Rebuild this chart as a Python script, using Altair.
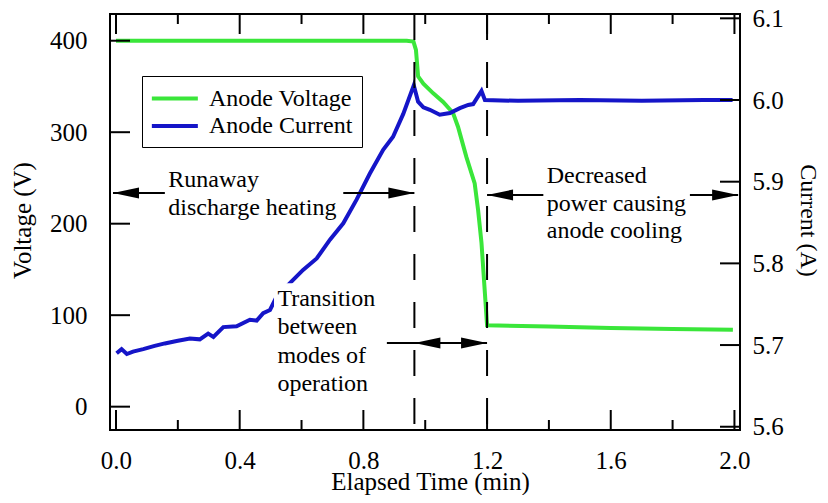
import altair as alt
import pandas as pd

# ---------------- data ----------------
volt_time = [0.0, 0.2, 0.4, 0.6, 0.8, 0.94, 0.962, 0.970, 0.977, 0.994, 1.026, 1.058,
             1.090, 1.106, 1.133, 1.160, 1.171, 1.182, 1.193, 1.200, 1.4, 1.6, 1.8, 1.995]
volt_value = [400, 400, 400, 400, 400, 400, 399, 390, 361, 353, 342.5, 333,
              321, 306, 273, 244, 215, 179, 124, 89, 87.5, 86, 85, 84]

curr_time = [0.002, 0.018, 0.035, 0.055, 0.088, 0.125, 0.158, 0.196, 0.239, 0.271,
             0.298, 0.315, 0.347, 0.390, 0.433, 0.455, 0.476, 0.498, 0.519, 0.545,
             0.568, 0.605, 0.649, 0.692, 0.735, 0.778, 0.821, 0.864, 0.896, 0.929,
             0.963, 0.977, 0.994, 1.015, 1.047, 1.080, 1.112, 1.139, 1.155, 1.182,
             1.193, 1.3, 1.5, 1.7, 1.9, 1.994]
curr_value = [5.690, 5.695, 5.689, 5.692, 5.695, 5.699, 5.702, 5.705, 5.708, 5.707,
              5.714, 5.710, 5.722, 5.723, 5.731, 5.730, 5.739, 5.743, 5.759, 5.769,
              5.778, 5.792, 5.806, 5.829, 5.849, 5.878, 5.910, 5.939, 5.955, 5.983,
              6.018, 5.998, 5.991, 5.988, 5.982, 5.984, 5.990, 5.994, 5.995, 6.011,
              6.000, 5.999, 6.000, 5.999, 6.000, 6.000]

series_names = ["Anode Voltage", "Anode Current"]
series_colors = ["#3ae63a", "#1515c8"]

x_major = [0.0, 0.4, 0.8, 1.2, 1.6, 2.0]
x_minor = [0.2, 0.6, 1.0, 1.4, 1.8]
v_ticks = [0, 100, 200, 300, 400]
i_ticks = [5.6, 5.7, 5.8, 5.9, 6.0, 6.1]

mode_bounds = [0.965, 1.2]

# arrow shafts (time from, time to, voltage level)
shaft_t1 = [-0.0097, 0.735, 1.2, 1.856, 0.876]
shaft_t2 = [0.158, 0.965, 1.382, 2.012, 1.2]
shaft_v = [233.6, 233.6, 231.4, 231.4, 69.6]
# arrow heads
head_left_t = [-0.0097, 1.2, 0.965]
head_left_v = [233.6, 231.4, 69.6]
head_right_t = [0.965, 2.012, 1.2]
head_right_v = [233.6, 231.4, 69.6]

# white background behind the "Transition" label
box_t1, box_t2, box_v1, box_v2 = [0.511], [0.828], [135.0], [9.0]

note_text = ["Runaway", "discharge heating",
             "Decreased", "power causing", "anode cooling",
             "Transition", "between", "modes of", "operation"]
note_t = [0.169, 0.169, 1.393, 1.393, 1.393, 0.522, 0.522, 0.522, 0.522]
note_v = [240.0, 209.4, 244.8, 214.2, 184.0, 110.0, 79.5, 48.1, 17.5]

# ---------------- chart ----------------
FONT = "Liberation Serif, Times New Roman, Tinos, DejaVu Serif, serif"
W, H = 630, 416
XS = alt.Scale(domain=[-0.0194, 2.018], nice=False, zero=False)
VS = alt.Scale(domain=[-25.5, 429.2], nice=False, zero=False)
IS = alt.Scale(domain=[5.596, 6.1053], nice=False, zero=False)

XAX = alt.Axis(values=x_major, format=".1f", title="Elapsed Time (min)",
               labelPadding=18, tickSize=0, titleY=59, titleX=320,
               titleBaseline="alphabetic", titleAlign="center")

volt_df = pd.DataFrame({"t": volt_time, "v": volt_value, "s": series_names[0]})
curr_df = pd.DataFrame({"t": curr_time, "i": curr_value, "s": series_names[1]})

LEG_LINE = "M-1.1,0 L2.9,0"
color = alt.Color("s:N", scale=alt.Scale(domain=series_names, range=series_colors),
                  legend=alt.Legend(title=None, orient="none", legendX=32, legendY=62,
                                    direction="vertical", symbolType=LEG_LINE,
                                    symbolStrokeWidth=4, symbolSize=529,
                                    labelFont=FONT, labelFontSize=24, labelColor="black",
                                    strokeColor="black", fillColor="white",
                                    padding=9, labelOffset=31, rowPadding=1.4))

green = alt.Chart(volt_df).mark_line(strokeWidth=4).encode(
    x=alt.X("t:Q", scale=XS, axis=XAX),
    y=alt.Y("v:Q", scale=VS, axis=alt.Axis(values=v_ticks, orient="left", title="Voltage (V)",
                                           labelPadding=23, tickSize=0, titleAngle=-90,
                                           titleX=-88, titleY=206, titleAlign="center",
                                           titleBaseline="middle")),
    color=color,
)
blue = alt.Chart(curr_df).mark_line(strokeWidth=4).encode(
    x=alt.X("t:Q", scale=XS, axis=XAX),
    y=alt.Y("i:Q", scale=IS, axis=alt.Axis(values=i_ticks, orient="right", title="Current (A)",
                                           format=".1f", labelPadding=12, tickSize=0,
                                           titleAngle=90, titleX=67, titleY=206,
                                           titleFontSize=24,
                                           titleAlign="center", titleBaseline="middle")),
    color=color,
)

dashed = alt.Chart(pd.DataFrame({"t": mode_bounds})).mark_rule(
    color="black", strokeWidth=2, strokeDash=[26, 22]).encode(
    x=alt.X("t:Q", scale=XS, axis=XAX))

shafts = alt.Chart(pd.DataFrame({"t1": shaft_t1, "t2": shaft_t2, "v": shaft_v})).mark_rule(
    color="black", strokeWidth=2).encode(
    x=alt.X("t1:Q", scale=XS, axis=XAX), x2="t2:Q",
    y=alt.Y("v:Q", scale=VS, axis=None))

LEFT_HEAD = "M0,0 L2,-0.42 L2,0.42 Z"
RIGHT_HEAD = "M0,0 L-2,-0.42 L-2,0.42 Z"
heads_l = alt.Chart(pd.DataFrame({"t": head_left_t, "v": head_left_v})).mark_point(
    shape=LEFT_HEAD, size=676, filled=True, color="black", opacity=1).encode(
    x=alt.X("t:Q", scale=XS, axis=XAX), y=alt.Y("v:Q", scale=VS, axis=None))
heads_r = alt.Chart(pd.DataFrame({"t": head_right_t, "v": head_right_v})).mark_point(
    shape=RIGHT_HEAD, size=676, filled=True, color="black", opacity=1).encode(
    x=alt.X("t:Q", scale=XS, axis=XAX), y=alt.Y("v:Q", scale=VS, axis=None))

box = alt.Chart(pd.DataFrame({"t1": box_t1, "t2": box_t2, "v1": box_v1, "v2": box_v2})).mark_rect(
    color="white").encode(
    x=alt.X("t1:Q", scale=XS, axis=XAX), x2="t2:Q",
    y=alt.Y("v1:Q", scale=VS, axis=None), y2="v2:Q")

notes = alt.Chart(pd.DataFrame({"t": note_t, "v": note_v, "txt": note_text})).mark_text(
    align="left", baseline="alphabetic", font=FONT, fontSize=24, color="black").encode(
    x=alt.X("t:Q", scale=XS, axis=XAX), y=alt.Y("v:Q", scale=VS, axis=None), text="txt:N")

tb_major = alt.Chart(pd.DataFrame({"t": x_major})).mark_rule(color="black", strokeWidth=2).encode(
    x=alt.X("t:Q", scale=XS, axis=XAX), y=alt.value(H), y2=alt.value(H - 20))
tt_major = alt.Chart(pd.DataFrame({"t": x_major})).mark_rule(color="black", strokeWidth=2).encode(
    x=alt.X("t:Q", scale=XS, axis=XAX), y=alt.value(0), y2=alt.value(20))
tb_minor = alt.Chart(pd.DataFrame({"t": x_minor})).mark_rule(color="black", strokeWidth=2).encode(
    x=alt.X("t:Q", scale=XS, axis=XAX), y=alt.value(H), y2=alt.value(H - 10))
tt_minor = alt.Chart(pd.DataFrame({"t": x_minor})).mark_rule(color="black", strokeWidth=2).encode(
    x=alt.X("t:Q", scale=XS, axis=XAX), y=alt.value(0), y2=alt.value(10))
tl = alt.Chart(pd.DataFrame({"v": v_ticks})).mark_rule(color="black", strokeWidth=2).encode(
    y=alt.Y("v:Q", scale=VS, axis=None), x=alt.value(0), x2=alt.value(20))
tr = alt.Chart(pd.DataFrame({"i": i_ticks})).mark_rule(color="black", strokeWidth=2).encode(
    y=alt.Y("i:Q", scale=IS, axis=None), x=alt.value(W), x2=alt.value(W - 20))

chart = alt.layer(
    green, blue, dashed, shafts, heads_l, heads_r, box, notes,
    tb_major, tt_major, tb_minor, tt_minor, tl, tr,
).resolve_scale(y="independent").properties(
    width=W, height=H,
    padding={"left": 102, "top": 6, "right": 80, "bottom": 65},
    autosize=alt.AutoSizeParams(type="none"),
    background="white",
).configure_view(
    stroke="black", strokeWidth=2,
).configure_axis(
    labelFont=FONT, labelFontSize=25, labelColor="black",
    titleFont=FONT, titleFontSize=25, titleFontWeight="normal", titleColor="black",
    ticks=False, domain=False, grid=False,
)

chart.save("out.html", embed_options={"renderer": "svg", "actions": False})
